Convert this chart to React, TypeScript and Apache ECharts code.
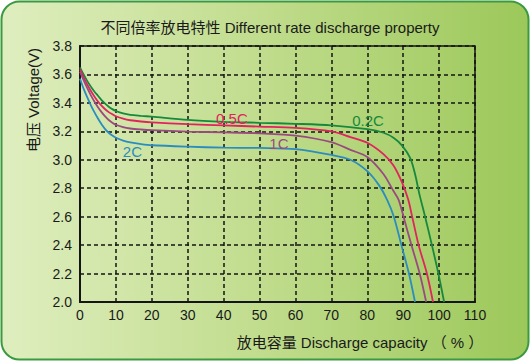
import React, { useEffect, useRef } from "react";
import * as echarts from "echarts";

const title = "不同倍率放电特性 Different rate discharge property";
const xAxisName = "放电容量 Discharge capacity （ % ）";
const yAxisName = "电压 Voltage(V)";

const seriesNames = ["0.2C", "0.5C", "1C", "2C"];
const seriesColors = ["#17893c", "#e0245e", "#9a4a80", "#2b8cc0"];

const data02C: number[][] = [
  [0, 3.65], [1, 3.6], [2, 3.555], [3, 3.515], [4, 3.48], [5, 3.45], [6, 3.42], [7, 3.395],
  [8, 3.373], [9, 3.356], [10, 3.343], [12, 3.326], [14, 3.316], [17, 3.309], [20, 3.303],
  [30, 3.28], [40, 3.267], [50, 3.26], [60, 3.253], [70, 3.242], [80, 3.215],
  [84.5, 3.19], [87.3, 3.155], [89.7, 3.1], [92, 3.01], [93.4, 2.89], [94.5, 2.76],
  [96.1, 2.6], [98, 2.4], [99.8, 2.2], [101.4, 2.0],
];
const data05C: number[][] = [
  [0, 3.635], [1, 3.58], [2, 3.53], [3, 3.485], [4, 3.445], [5, 3.41], [6, 3.38], [7, 3.355],
  [8, 3.335], [9, 3.32], [10, 3.306], [12, 3.289], [14, 3.278], [17, 3.269], [20, 3.263],
  [30, 3.25], [40, 3.242], [50, 3.233], [60, 3.224], [70, 3.199], [75.3, 3.16],
  [80, 3.12], [84.5, 3.04], [87.3, 2.96], [89.7, 2.84], [91.4, 2.72], [92.5, 2.6],
  [94.3, 2.4], [96.6, 2.2], [98.3, 2.0],
];
const data1C: number[][] = [
  [0, 3.62], [1, 3.56], [2, 3.505], [3, 3.455], [4, 3.41], [5, 3.37], [6, 3.335], [7, 3.305],
  [8, 3.28], [9, 3.261], [10, 3.246], [12, 3.229], [14, 3.22], [17, 3.213], [20, 3.208],
  [30, 3.198], [40, 3.193], [50, 3.186], [60, 3.17], [70, 3.124], [75.3, 3.07],
  [80, 3.02], [84.5, 2.9], [87.3, 2.78], [88.7, 2.72], [90.1, 2.6], [92.3, 2.4],
  [94.6, 2.2], [96.4, 2.0],
];
const data2C: number[][] = [
  [0, 3.57], [1, 3.5], [2, 3.44], [3, 3.385], [4, 3.335], [5, 3.29], [6, 3.25], [7, 3.216],
  [8, 3.19], [9, 3.17], [10, 3.155], [12, 3.135], [14, 3.122], [17, 3.11], [20, 3.102],
  [30, 3.092], [40, 3.085], [50, 3.083], [60, 3.075], [70, 3.034], [75.3, 3.0],
  [80, 2.92], [83.3, 2.82], [85.5, 2.72], [87.4, 2.6], [89.5, 2.4], [91.6, 2.2], [93.3, 2.0],
];
const seriesData = [data02C, data05C, data1C, data2C];

// label anchor positions (in data units)
const labelCoords: number[][] = [
  [80.2, 3.276],
  [42.3, 3.29],
  [55.4, 3.113],
  [14.6, 3.059],
];

const xMin = 0, xMax = 110, xStep = 10;
const yMin = 2.0, yMax = 3.8, yStep = 0.2;

const FONT = "'Liberation Sans', Arial, 'Noto Sans CJK SC', sans-serif";

export default function App() {
  const ref = useRef<HTMLDivElement>(null);
  useEffect(() => {
    if (!ref.current) return;
    const chart = echarts.init(ref.current, undefined, { renderer: "svg" });
    const gridLine = { show: true, lineStyle: { color: "#151515", width: 1.5, type: [4, 3] as any } };
    chart.setOption({
      animation: false,
      backgroundColor: "transparent",
      graphic: [
        {
          type: "rect",
          z: -10,
          silent: true,
          shape: { x: 1.5, y: 1.5, width: 527, height: 358, r: 18 },
          style: {
            fill: new echarts.graphic.LinearGradient(0, 0, 1, 0, [
              { offset: 0, color: "#dfeebf" },
              { offset: 0.5, color: "#c0dc8c" },
              { offset: 1, color: "#9cc85a" },
            ]),
            stroke: "#3b9a40",
            lineWidth: 2,
          },
        },
        {
          type: "text",
          x: 270,
          y: 27,
          style: {
            text: title,
            fill: "#1a1a1a",
            font: `15px ${FONT}`,
            align: "center",
            verticalAlign: "middle",
          },
        },
        {
          type: "text",
          x: 360,
          y: 342,
          style: {
            text: xAxisName,
            fill: "#1a1a1a",
            font: `15px ${FONT}`,
            align: "center",
            verticalAlign: "middle",
          },
        },
        {
          type: "text",
          x: 33,
          y: 100,
          rotation: Math.PI / 2,
          style: {
            text: yAxisName,
            fill: "#1a1a1a",
            font: `15px ${FONT}`,
            align: "center",
            verticalAlign: "middle",
          },
        },
      ],
      grid: {
        left: 80,
        right: 57,
        top: 46,
        bottom: 61,
        show: true,
        borderColor: "#151515",
        borderWidth: 1.5,
        backgroundColor: "transparent",
      },
      xAxis: {
        type: "value",
        min: xMin,
        max: xMax,
        interval: xStep,
        axisLine: { show: true, onZero: false, lineStyle: { color: "#151515", width: 2 } },
        axisTick: { show: false },
        axisLabel: { color: "#1a1a1a", fontSize: 14, fontFamily: FONT, margin: 6 },
        splitLine: gridLine,
      },
      yAxis: {
        type: "value",
        min: yMin,
        max: yMax,
        interval: yStep,
        axisLine: { show: true, onZero: false, lineStyle: { color: "#151515", width: 2 } },
        axisTick: { show: false },
        axisLabel: {
          color: "#1a1a1a",
          fontSize: 14,
          fontFamily: FONT,
          margin: 8,
          formatter: (v: number) => v.toFixed(1),
        },
        splitLine: gridLine,
      },
      series: seriesNames.map((name, i) => ({
        name,
        type: "line",
        data: seriesData[i],
        smooth: 0.3,
        showSymbol: false,
        symbol: "none",
        lineStyle: { color: seriesColors[i], width: 1.8 },
        markPoint: {
          symbol: "circle",
          symbolSize: 0,
          data: [
            {
              coord: labelCoords[i],
              label: {
                show: true,
                position: "inside",
                formatter: name,
                color: seriesColors[i],
                fontSize: 15,
                fontFamily: FONT,
              },
            },
          ],
        },
      })),
    });
    return () => chart.dispose();
  }, []);
  return (
    <div style={{ position: "absolute", left: 0, top: 0, width: 532, height: 363, background: "#fff" }}>
      <div ref={ref} style={{ width: 532, height: 363 }} />
    </div>
  );
}
